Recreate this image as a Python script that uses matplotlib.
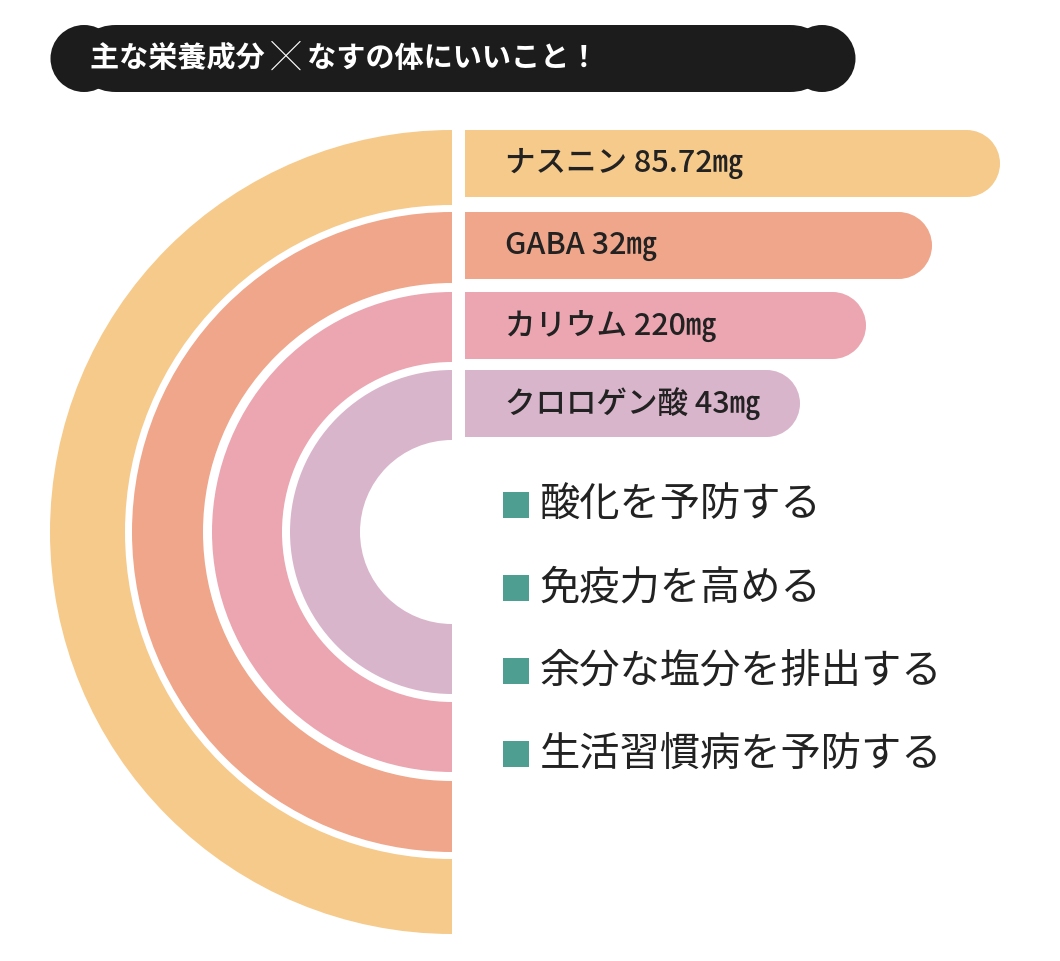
import matplotlib
matplotlib.use("Agg")
import matplotlib.pyplot as plt
from matplotlib.patches import Wedge, Rectangle, Circle, FancyBboxPatch

plt.rcParams['font.family'] = ['Noto Sans CJK JP', 'DejaVu Sans']

title = "主な栄養成分 ╳ なすの体にいいこと！"
nutrients = ["ナスニン 85.72㎎", "GABA 32㎎", "カリウム 220㎎", "クロロゲン酸 43㎎"]
benefits = ["酸化を予防する", "免疫力を高める", "余分な塩分を排出する", "生活習慣病を予防する"]
colors = ["#F6CA8B", "#EFA68A", "#EBA6B1", "#D9B5CC"]
# layout
radii = [(402, 327), (320, 249), (240, 170), (162, 92)]
bar_tops = [130, 212, 292, 370]
bar_ends = [1000, 932, 866, 800]

fig = plt.figure(figsize=(10.6, 9.61), dpi=100)
ax = fig.add_axes([0, 0, 1, 1])
ax.set_xlim(0, 1060); ax.set_ylim(961, 0); ax.axis('off')

cx, cy = 452, 532
for (ro, ri), c in zip(radii, colors):
    ax.add_patch(Wedge((cx, cy), ro, 90, 270, width=ro - ri, facecolor=c, edgecolor='none'))

h = 67
for lab, top, end, c in zip(nutrients, bar_tops, bar_ends, colors):
    r = h / 2
    ax.add_patch(Rectangle((465, top), end - r - 465, h, facecolor=c, edgecolor='none'))
    ax.add_patch(Circle((end - r, top + r), r, facecolor=c, edgecolor='none'))
    ax.text(505, top + r, lab, fontsize=22, fontweight='medium', color='#222222', va='center', ha='left')

# title pill
ax.add_patch(FancyBboxPatch((83, 25), 740, 67, boxstyle="round,pad=0,rounding_size=33",
                            facecolor='#1c1c1c', edgecolor='none'))
ax.add_patch(Circle((84, 58.5), 33.5, facecolor='#1c1c1c', edgecolor='none'))
ax.add_patch(Circle((822, 58.5), 33.5, facecolor='#1c1c1c', edgecolor='none'))
ax.text(90, 58, title, fontsize=21, fontweight='bold', color='white', va='center', ha='left')

for i, b in enumerate(benefits):
    y = 505 + i * 83
    ax.add_patch(Rectangle((503, y - 13), 26, 26, facecolor='#4E9E91', edgecolor='none'))
    ax.text(540, y, b, fontsize=29, color='#222222', va='center', ha='left')

fig.savefig("out.png", dpi=100, facecolor='white')
